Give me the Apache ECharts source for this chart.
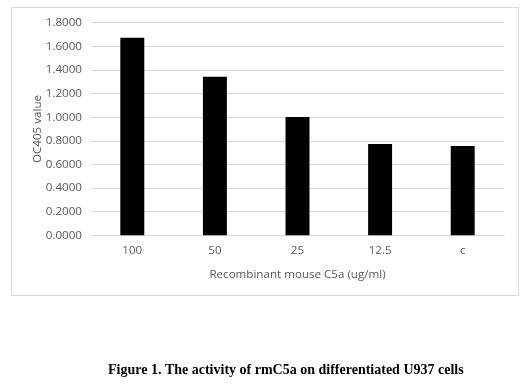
<!DOCTYPE html>
<html><head><meta charset="utf-8">
<script src="https://cdn.jsdelivr.net/npm/echarts@6/dist/echarts.min.js"></script>
<style>html,body{margin:0;padding:0;background:#fff}#c{width:532px;height:384px}</style>
</head><body><div id="c"></div>
<script>
const categories = ['100', '50', '25', '12.5', 'c'];
const values = [1.672, 1.342, 1.002, 0.774, 0.757];
const yTicks = { min: 0, max: 1.8, interval: 0.2 };
const xName = 'Recombinant mouse C5a (ug/ml)';
const yName = 'OC405 value';
const caption = 'Figure 1. The activity of rmC5a on differentiated U937 cells';

const chart = echarts.init(document.getElementById('c'), null, { renderer: 'canvas' });
const labelFont = { fontFamily: 'Open Sans', fontSize: 11.6, color: '#595959' };
chart.setOption({
  backgroundColor: '#fff',
  animation: false,
  graphic: [
    { type: 'rect', shape: { x: 11.5, y: 7.5, width: 507, height: 288 }, style: { fill: 'none', stroke: '#d9d9d9', lineWidth: 1 } },
    { type: 'text', left: 108, top: 363, style: { text: caption, font: 'bold 14px "Liberation Serif"', fill: '#000' } }
  ],
  grid: { left: 91, right: 28, top: 22.7, bottom: 384 - 235.3, containLabel: false },
  xAxis: {
    type: 'category', data: categories,
    axisLine: { lineStyle: { color: '#d9d9d9' } },
    axisTick: { show: false },
    axisLabel: Object.assign({ margin: 9 }, labelFont),
    name: xName, nameLocation: 'middle', nameGap: 33,
    nameTextStyle: labelFont
  },
  yAxis: {
    type: 'value', min: yTicks.min, max: yTicks.max, interval: yTicks.interval,
    axisLine: { show: false }, axisTick: { show: false },
    splitLine: { lineStyle: { color: '#d9d9d9' } },
    axisLabel: Object.assign({ margin: 9, formatter: v => v.toFixed(4) }, labelFont),
    name: yName, nameLocation: 'middle', nameGap: 47, nameRotate: 90, nameMoveOverlap: false,
    nameTextStyle: labelFont
  },
  series: [{
    type: 'bar', data: values, barWidth: '29%',
    itemStyle: { color: '#000' }
  }]
});
</script></body></html>
